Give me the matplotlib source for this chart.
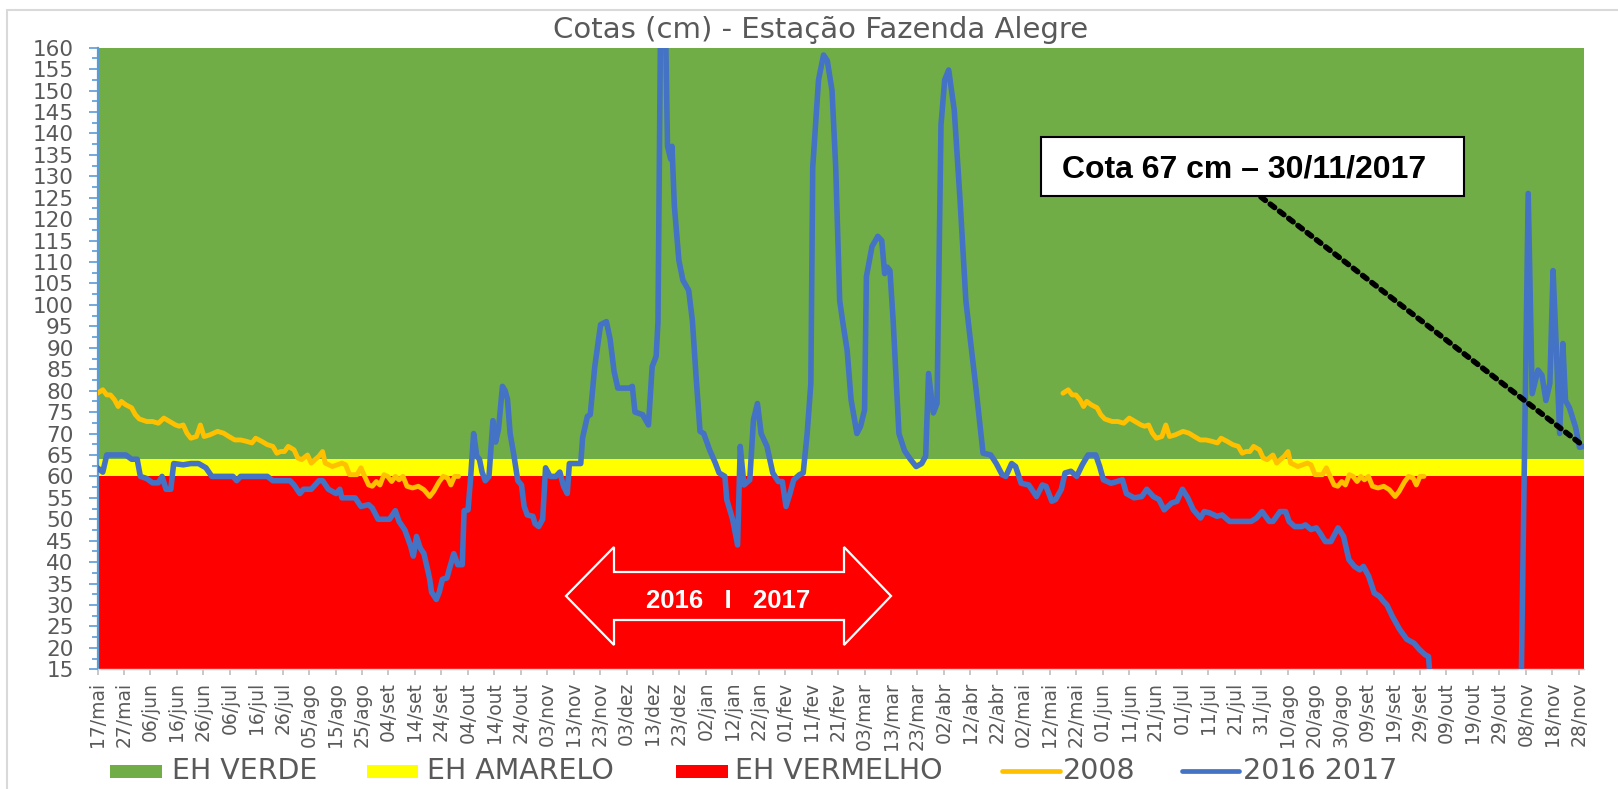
import matplotlib
matplotlib.use("Agg")
import matplotlib.pyplot as plt
from matplotlib.patches import Rectangle, Polygon
from matplotlib.lines import Line2D
from matplotlib.ticker import MultipleLocator, AutoMinorLocator
import numpy as np
import pandas as pd

plt.rcParams["font.family"] = ["DejaVu Sans"]

# ---------------- data ----------------
titulo = "Cotas (cm) - Estação Fazenda Alegre"
inicio = pd.Timestamp("2016-05-17")
inicio_2017 = pd.Timestamp("2017-05-17")
fim_ticks = pd.Timestamp("2017-11-28")
fim = pd.Timestamp("2017-11-30")
meses_pt = ["jan", "fev", "mar", "abr", "mai", "jun", "jul", "ago", "set", "out", "nov", "dez"]

faixa_nomes = ["EH VERMELHO", "EH AMARELO", "EH VERDE"]
faixa_limites = [0, 60, 64, 160]
faixa_cores = ["#FF0000", "#FFFF00", "#70AD47"]

serie_nomes = ["2008", "2016 2017"]
serie_cores = ["#FFC000", "#4472C4"]

# days after 17/mai/2016 and level (cm) - series 2016 2017
dias_2016_2017 = [0, 2, 3.5, 5, 10.7, 12.9, 15, 16.2, 18.6, 20.8, 23, 24.4, 25.9, 27.7, 28.8, 32.4, 35.3, 38.2, 41, 43.2,
                  51.2, 52.6, 54.1, 64.2, 66.3, 72.8, 74.3, 76.5, 77.9, 80.8, 83.7, 85.1, 87.3, 90.2, 91.6, 92.4, 97.4,
                  99.6, 102.5, 103.9, 106.1, 110.4, 112.6, 114, 116.2, 118.4, 119.4, 120.6, 122, 123.4, 124.9, 125.6,
                  126.3, 128.1, 129.2, 130.4, 132.1, 133.3, 134.7, 136.2, 137.9, 138.6, 140.1, 141.1, 142.2, 143.4,
                  144.4, 145.4, 146.6, 148, 149.5, 150.5, 151.6, 153.1, 154.1, 155, 156, 157.4, 158.9, 160.3, 161.3,
                  162.5, 164.6, 165.4, 166.8, 168.3, 169.4, 171.1, 173.3, 174.8, 176.2, 177.6, 178.4, 182.7, 183.4,
                  185.2, 186.3, 188, 190.2, 192.4, 193.8, 195.3, 196.7, 201.1, 202.2, 203.2, 206.1, 208.3, 209.7,
                  211.2, 211.9, 213, 214.5, 215.5, 216.7, 217.2, 218.1, 219.8, 221.3, 223.5, 224.9, 226.3, 227.8,
                  229.2, 231.4, 233.6, 235, 237.2, 237.9, 240.1, 242, 243, 244.4, 246.6, 248, 249.5, 250.9, 253.1,
                  255.3, 257.4, 258.9, 260.3, 261.8, 263.2, 265.4, 266.8, 268.3, 269.7, 270.4, 272.6, 274.5, 275.9,
                  277.7, 279.1, 280.6, 282, 283.4, 284.9, 287.1, 288.5, 290, 290.7, 292.8, 295, 296.5, 297.6, 298.6,
                  299.6, 300.8, 303, 305.1, 307.3, 309.5, 311.6, 313.1, 314.2, 316, 317.4, 318.9, 320.3, 321.8,
                  323.9, 326.1, 328.3, 329.7, 331.9, 334.8, 337.7, 339.8, 342, 343.4, 345.6, 347.1, 349.2, 352.1,
                  355, 357.2, 358.6, 360.8, 362.2, 364.4, 365.8, 368, 370.2, 372.3, 374.5, 377.4, 378.9, 380.3,
                  383.2, 385.4, 387.5, 389, 391.9, 394.8, 396.7, 399.2, 401.3, 403.3, 406.1, 408.1, 410.2, 412.2,
                  414.3, 417, 418.4, 420.4, 423.2, 425.2, 428, 436.2, 438.2, 440.3, 443, 444.4, 447.1, 449.2, 450.5,
                  452.6, 455.3, 456.7, 458.8, 460.8, 462.2, 464.2, 466.3, 469, 471.1, 473.1, 475.2, 477.2, 478.6,
                  480.6, 482.7, 484.7, 486.1, 487.5, 489.5, 492.3, 495, 497.7, 499.8, 501.9, 503.2, 505.5, 538,
                  540.9, 542.4, 544.6, 546.1, 547.6, 549.1, 550.3, 551.3, 552.8, 554, 555, 556.5, 558.8, 560.3, 562]
cota_2016_2017 = [62, 61, 65, 65, 65, 64, 64, 60, 59.5, 58.5, 58.5, 60, 57, 57, 63, 62.7, 63, 63, 62, 60,
                  60, 59, 60, 60, 59, 59, 58, 56, 57, 57, 59, 59, 57, 56, 57, 55, 55,
                  53, 53.4, 52.6, 50, 50, 52, 49.5, 47.5, 43.7, 41.4, 46, 43.3, 42, 38, 36,
                  33, 31.3, 33, 36, 36.3, 39, 42, 39.4, 39.4, 52, 52.2, 60, 70, 64.7,
                  64, 61, 59, 60, 73, 68, 71, 81, 80, 78, 70, 65, 59, 58, 53,
                  51, 50.7, 49, 48.3, 50, 62, 60, 60, 61, 57.7, 56, 63, 63, 69,
                  74, 74.4, 85.6, 95.4, 96.1, 92, 84.5, 80.6, 80.6, 81, 75, 74.4, 72, 85.6,
                  88, 96, 175, 175, 137, 134, 137, 123, 110.4, 105.8, 103.4, 96.4, 83.3, 70.5,
                  70, 66.2, 63.1, 60.8, 60, 54.6, 50, 44, 67, 58, 59.2, 73.2, 77, 70, 67,
                  60.8, 58.8, 58.8, 53, 56, 59.2, 60.4, 60.8, 70, 81.7, 132, 152.5, 158.3, 157,
                  150, 132, 101, 95, 89.5, 77.9, 70, 71.7, 75.5, 106.6, 113.6, 116, 115, 107.3, 108.8,
                  108, 96.4, 70, 66, 64, 62.3, 63, 64.7, 84, 74.8, 77, 142, 152.5, 154.8,
                  145.5, 124.5, 101, 93.4, 81.8, 65.4, 65, 63, 60.4, 60, 63, 62.3, 58.4, 58,
                  55.3, 58, 57.7, 54.2, 54.6, 57, 60.8, 61.2, 60, 62.7, 65, 65, 62.3, 59.2,
                  58.4, 58.8, 59.2, 56, 55, 55.3, 57, 55.3, 54.6, 52.2, 53.8, 54.2, 57, 55,
                  52.2, 50.3, 51.8, 51.5, 50.7, 51, 49.5, 49.5, 50.3, 51.8, 49.5, 49.5, 51.8, 51.8, 49.5,
                  48.3, 48.3, 48.7, 47.6, 48, 46.8, 44.8, 44.8, 48, 46, 40.6, 39, 38.2, 39,
                  36.7, 32.8, 32, 30.9, 30, 27.4, 24.3, 22, 21.1, 19.6, 18.4, 18, 0, 0,
                  126, 79.3, 84.8, 83.6, 77.7, 81.7, 108, 93.3, 70, 91, 77.7, 76, 71.5, 66.8, 67]

# 2008 series: days after 17/mai (same calendar days drawn in 2016 and 2017)
dias_2008 = [0, 2, 3.5, 4.9, 6.4, 7.8, 9, 10.7, 12.9, 14.3, 15.8, 18.6, 20.8, 23, 25.1, 27.3, 29.5, 30.9, 32.4,
             33.8, 35.3, 37.4, 38.9, 40.3, 42.5, 45.4, 47.6, 49.7, 51.9, 54.1, 56.2, 58.4, 59.8, 62, 64.2, 66.3,
             67.8, 69.2, 70.7, 72.1, 74.3, 75.7, 77.2, 79.4, 80.8, 82.2, 83.7, 85.1, 86.1, 88.8, 92.4, 93.8, 95.3,
             98.1, 99.6, 101, 102.5, 103.9, 105.4, 106.8, 108.3, 109.7, 111.2, 112.6, 114, 115.5, 117, 119.1,
             121.3, 123.4, 125.6, 127.1, 129.2, 130.7, 132.4, 133.6, 135, 136.5]
cota_2008 = [79.4, 80.2, 79, 79, 77.9, 76.3, 77.5, 76.7, 76, 74.4, 73.4, 72.8, 72.8, 72.4, 73.6, 72.8, 72, 71.7, 72,
             70.1, 68.9, 69.3, 72, 69.3, 69.7, 70.5, 70.1, 69.3, 68.5, 68.5, 68.2, 67.8, 68.9, 68.2, 67.4, 67,
             65.4, 65.8, 65.8, 67, 66.2, 64.3, 63.9, 65, 63.1, 63.9, 64.7, 65.8, 63.1, 62.3, 63.1, 62.7, 60.4,
             60.4, 62, 60, 58, 57.7, 58.8, 58, 60.4, 60, 58.8, 60, 59.2, 60, 57.7, 57.3,
             57.7, 56.9, 55.3, 56.5, 58.8, 60, 59.6, 58, 60, 60]

anotacao = "Cota 67 cm \u2013 30/11/2017"
periodo = "2016   I   2017"

# ---------------- figure ----------------
W, H = 1618, 789
fig = plt.figure(figsize=(W / 100, H / 100), dpi=100)


def fx(px):
    return px / W


def fy(py):
    return 1 - py / H


L, R, T, B = 97.5, 1584, 47.7, 669.3
ax = fig.add_axes([fx(L), fy(B), (R - L) / W, (B - T) / H])

for lo, hi, cor in zip(faixa_limites[:-1], faixa_limites[1:], faixa_cores):
    ax.axhspan(lo, hi, color=cor, lw=0, zorder=0)

x_serie = np.array(inicio + pd.to_timedelta(np.array(dias_2016_2017), unit="D"))
x_2008_a = np.array(inicio + pd.to_timedelta(np.array(dias_2008), unit="D"))
x_2008_b = np.array(inicio_2017 + pd.to_timedelta(np.array(dias_2008), unit="D"))

ax.plot(x_2008_a, cota_2008, color=serie_cores[0], lw=3.5, solid_joinstyle="round",
        solid_capstyle="round", zorder=3)
ax.plot(x_2008_b, cota_2008, color=serie_cores[0], lw=3.5, solid_joinstyle="round",
        solid_capstyle="round", zorder=3)
ax.plot(x_serie, cota_2016_2017, color=serie_cores[1], lw=4, solid_joinstyle="round", zorder=4)

ax.set_xlim(inicio, fim)
ax.set_ylim(15, 160)

ticks = pd.date_range(inicio, fim_ticks, freq="10D")
rotulos = [f"{d.day:02d}/{meses_pt[d.month - 1]}" for d in ticks]
ax.set_xticks(ticks)
ax.set_xticklabels(rotulos, rotation=90)
ax.yaxis.set_major_locator(MultipleLocator(5))
ax.yaxis.set_minor_locator(AutoMinorLocator(2))

for s in ["top", "right"]:
    ax.spines[s].set_visible(False)
ax.spines["left"].set_color("#5B9BD5")
ax.spines["left"].set_linewidth(1.6)
ax.spines["bottom"].set_color("#D9D9D9")
ax.spines["bottom"].set_linewidth(1.0)

ax.tick_params(axis="y", which="major", length=6.2, width=1.2, color="#5B9BD5",
               labelsize=15.5, labelcolor="#595959", pad=11)
ax.tick_params(axis="y", which="minor", length=4, width=1.2, color="#5B9BD5")
ax.tick_params(axis="x", which="major", length=4, width=1.2, color="#BFBFBF",
               labelsize=13.5, labelcolor="#595959", pad=5)

# title
fig.text(fx(821), fy(38.3), titulo, ha="center", va="baseline", fontsize=21, color="#595959")

# annotation box + dotted leader
fig.patches.append(Rectangle((fx(1041), fy(196)), (1464 - 1041) / W, (196 - 137) / H,
                             transform=fig.transFigure, fc="white", ec="black", lw=1.5, zorder=10))
fig.text(fx(1062), fy(177), anotacao, fontsize=23, fontweight="bold", family="Liberation Sans",
         ha="left", va="baseline", color="black", zorder=11)
ax.annotate("", xy=(x_serie[-1], cota_2016_2017[-1]), xycoords="data",
            xytext=(fx(1261), fy(197)), textcoords="figure fraction",
            arrowprops=dict(arrowstyle="-", color="black", lw=4, linestyle=(0, (1, 1.1)),
                            shrinkA=0, shrinkB=0),
            annotation_clip=False, zorder=9)

# double arrow 2016 | 2017
seta = [(566, 596), (614, 547), (614, 572), (844, 572), (844, 547), (891, 596),
        (844, 645), (844, 620), (614, 620), (614, 645)]
fig.patches.append(Polygon([(fx(a), fy(b)) for a, b in seta], closed=True,
                           transform=fig.transFigure, fill=False, ec="white", lw=1.6, zorder=8))
fig.text(fx(728), fy(608.3), periodo, ha="center", va="baseline", fontsize=18.5,
         fontweight="bold", family="Liberation Sans", color="white", zorder=9)

# legend (Excel-style row)
leg_y = 771.3
entradas = [
    ("patch", faixa_cores[2], "EH VERDE", 110, 162, 171.7),
    ("patch", faixa_cores[1], "EH AMARELO", 366.7, 418.3, 426.7),
    ("patch", faixa_cores[0], "EH VERMELHO", 676, 728, 735),
    ("line", serie_cores[0], serie_nomes[0], 1001.7, 1060, 1063),
    ("line", serie_cores[1], serie_nomes[1], 1181.7, 1239.3, 1243),
]
for tipo, cor, nome, x0, x1, xt in entradas:
    if tipo == "patch":
        fig.patches.append(Rectangle((fx(x0), fy(778)), (x1 - x0) / W, 13.5 / H,
                                     transform=fig.transFigure, fc=cor, ec="none"))
    else:
        fig.lines.append(Line2D([fx(x0), fx(x1)], [fy(leg_y), fy(leg_y)], transform=fig.transFigure,
                                color=cor, lw=3.4, solid_capstyle="round"))
    fig.text(fx(xt), fy(779.3), nome, ha="left", va="baseline", fontsize=20.5, color="#595959")

# outer chart border
fig.patches.append(Rectangle((fx(7.5), -0.1), 1.2, fy(10) + 0.1, transform=fig.transFigure,
                             fill=False, ec="#D9D9D9", lw=1.5))

fig.savefig("out.png", dpi=100)
